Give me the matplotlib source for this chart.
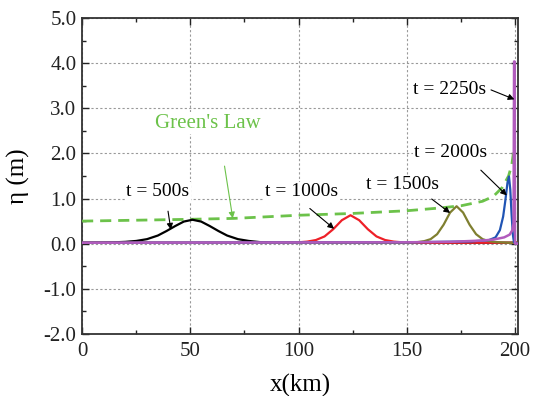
import matplotlib
matplotlib.use("Agg")
from matplotlib import pyplot as plt
from matplotlib.ticker import MultipleLocator, FormatStrFormatter

plt.rcParams['font.family'] = ['Liberation Serif', 'DejaVu Serif']
plt.rcParams['axes.unicode_minus'] = False
plt.rcParams['mathtext.fontset'] = 'stix'

# t = 500s
x500 = [0, 10, 15, 20, 25, 30, 35, 39, 43, 47, 51, 55, 59, 63, 67, 72, 77, 82, 90, 201.4]
y500 = [0.02, 0.025, 0.03, 0.04, 0.06, 0.1, 0.18, 0.28, 0.39, 0.49, 0.53, 0.49, 0.39, 0.28, 0.18, 0.1, 0.06, 0.035, 0.02, 0.02]

# t = 1000s
x1000 = [0, 92, 100, 104, 108, 112, 116, 120, 124, 128, 132, 136, 140, 144, 148, 156, 201.4]
y1000 = [0.02, 0.02, 0.03, 0.045, 0.08, 0.16, 0.32, 0.52, 0.63, 0.52, 0.32, 0.16, 0.08, 0.045, 0.03, 0.02, 0.02]

# t = 1500s
x1500 = [0, 149, 155, 158, 161, 164, 167, 170, 173, 176, 179, 182, 185, 188, 191, 197, 201.4]
y1500 = [0.02, 0.02, 0.035, 0.055, 0.1, 0.21, 0.42, 0.69, 0.83, 0.69, 0.42, 0.21, 0.1, 0.055, 0.035, 0.02, 0.02]

# t = 2000s
x2000 = [0, 150, 180, 188, 191, 193, 194.5, 195.5, 196.5, 197.2, 197.8, 198.4, 199.0, 199.5, 201.4]
y2000 = [0.02, 0.03, 0.05, 0.08, 0.14, 0.3, 0.6, 0.95, 1.35, 1.49, 1.2, 0.65, 0.2, 0.03, 0.0]

# t = 2250s
x2250 = [0, 150, 170, 185, 190, 195, 197.5, 198.8, 199.3, 199.55, 199.8, 200.0, 201.4]
y2250 = [0.02, 0.03, 0.04, 0.07, 0.09, 0.14, 0.2, 0.3, 0.45, 4.04, 4.04, 0.0, 0.0]

# Green's law
xg = [0, 25, 50, 70, 100, 125, 150, 165, 175, 185, 190, 194, 197, 198.5, 199.5]
yg = [0.50, 0.52, 0.54, 0.56, 0.63, 0.67, 0.73, 0.79, 0.84, 0.94, 1.05, 1.24, 1.5, 1.75, 2.1]

labels = ['t = 500s', 't = 1000s', 't = 1500s', 't = 2000s', 't = 2250s']
label_xy = [(35, 1.15), (101.5, 1.15), (148, 1.31), (170.4, 2.02), (169.7, 3.42)]
arrow_from = [(39.7, 0.72), (105.2, 0.78), (161.5, 0.99), (184.2, 1.63), (188.9, 3.41)]
arrow_to = [(41, 0.31), (116.4, 0.33), (170, 0.68), (196.2, 1.07), (199.7, 3.2)]

fig = plt.figure(figsize=(5.33, 3.96), dpi=100)
ax = fig.add_axes([0.154, 0.157, 0.818, 0.797])

ax.plot(xg, yg, color='#6cc24a', lw=2, dashes=(4, 2.5), zorder=3)
ax.plot(x500, y500, color='black', lw=1.6, zorder=4)
ax.plot(x1000, y1000, color='#ee2028', lw=1.6, zorder=4)
ax.plot(x1500, y1500, color='#7f7f30', lw=1.6, zorder=4)
ax.plot(x2000, y2000, color='#2054b4', lw=1.6, zorder=4)
ax.plot(x2250, y2250, color='#b15cbd', lw=1.8, zorder=5)

for lab, xy, a0, a1 in zip(labels, label_xy, arrow_from, arrow_to):
    ax.text(xy[0], xy[1], lab, fontsize=14, ha='center', va='center',
            bbox=dict(facecolor='white', edgecolor='none', pad=1), zorder=6)
    ax.annotate('', xy=a1, xytext=a0,
                arrowprops=dict(arrowstyle='-|>', color='black', lw=0.8,
                                mutation_scale=9, shrinkA=0, shrinkB=0), zorder=6)

ax.text(57.9, 2.67, "Green's Law", fontsize=15, color='#6cc24a', ha='center', va='center',
        bbox=dict(facecolor='white', edgecolor='none', pad=1), zorder=6)
ax.annotate('', xy=(69.6, 0.56), xytext=(65.8, 1.72),
            arrowprops=dict(arrowstyle='-|>', color='#6cc24a', lw=0.8,
                            mutation_scale=9, shrinkA=0, shrinkB=0), zorder=6)

ax.set_xlim(0, 201.4)
ax.set_ylim(-2.0, 5.0)
ax.xaxis.set_major_locator(MultipleLocator(50))
ax.xaxis.set_minor_locator(MultipleLocator(25))
ax.yaxis.set_major_locator(MultipleLocator(1.0))
ax.yaxis.set_minor_locator(MultipleLocator(0.5))
ax.yaxis.set_major_formatter(FormatStrFormatter('%.1f'))
ax.grid(True, which='major', color='#999999', lw=0.8, linestyle=(0, (2, 2)))
ax.tick_params(which='both', direction='in', top=True, right=True, labelsize=15, colors='#222222')
ax.tick_params(which='major', length=5, width=1)
ax.tick_params(which='minor', length=3, width=1)
ax.tick_params(axis='x', pad=6)
ax.tick_params(axis='y', pad=4)
for s in ax.spines.values():
    s.set_linewidth(1.3)
    s.set_color('#333333')

ax.set_xlabel('x(km)', fontsize=18, labelpad=9)
ax.set_ylabel('η (m)', fontsize=18, labelpad=10)

plt.savefig('out.png', dpi=100)
